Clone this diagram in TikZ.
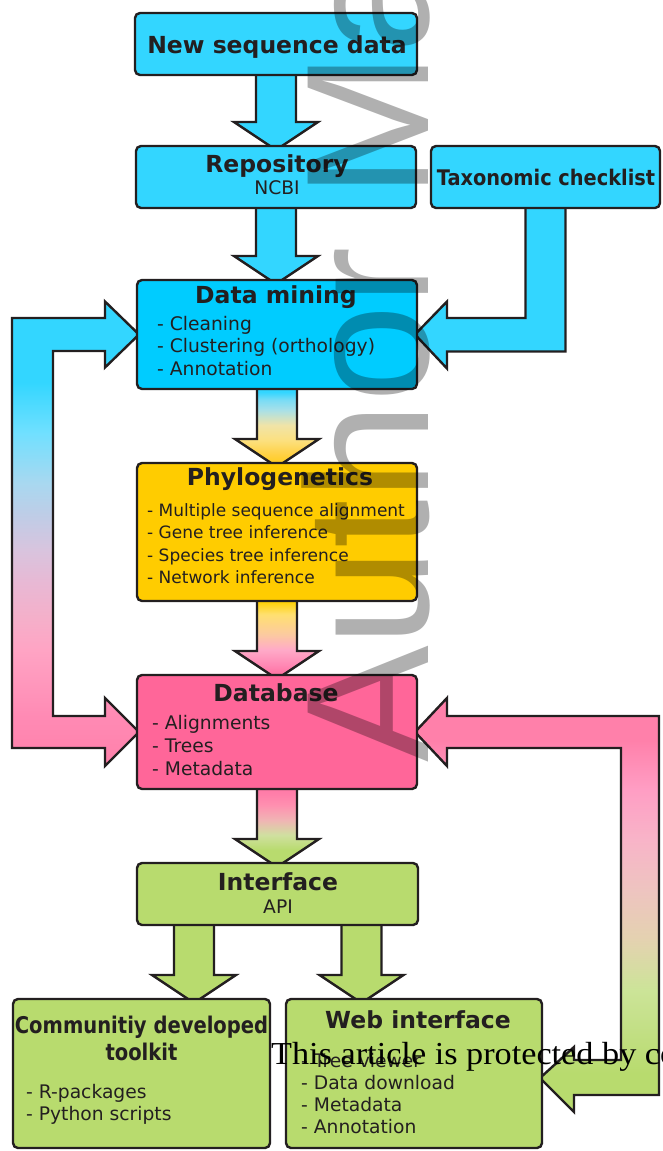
\documentclass[tikz,border=0pt]{standalone}
\usepackage{fontspec}
\usepackage{graphicx}
\usetikzlibrary{calc}
\newfontfamily\dvs{DejaVu Sans}
\newfontfamily\wmsans{Liberation Sans}
\newfontfamily\wmserif{Liberation Serif}
\definecolor{outl}{HTML}{231F20}
\definecolor{ink}{HTML}{231F20}
\definecolor{cyA}{HTML}{33D6FF}
\definecolor{cyB}{HTML}{00CCFF}
\definecolor{yel}{HTML}{FFCC00}
\definecolor{pnk}{HTML}{FF6699}
\definecolor{grn}{HTML}{B8DB6E}
\definecolor{lA}{HTML}{FF80AA}
\definecolor{lB}{HTML}{FF8AB4}
\definecolor{lC}{HTML}{FFA4C4}
\definecolor{lD}{HTML}{F4B0CA}
\definecolor{lE}{HTML}{E8B8D4}
\definecolor{lF}{HTML}{D8C4DE}
\definecolor{lG}{HTML}{C0CCE6}
\definecolor{lH}{HTML}{A8D8F0}
\definecolor{lI}{HTML}{70E0FF}
\definecolor{lJ}{HTML}{33D6FF}
\definecolor{rA}{HTML}{B8DB6E}
\definecolor{rB}{HTML}{C4E088}
\definecolor{rC}{HTML}{CCE498}
\definecolor{rD}{HTML}{E4D2B0}
\definecolor{rE}{HTML}{EEC4C0}
\definecolor{rF}{HTML}{F8B4C8}
\definecolor{rG}{HTML}{FF9EC4}
\definecolor{rH}{HTML}{FF80AA}
\definecolor{aA}{HTML}{7ADCF5}
\definecolor{aB}{HTML}{A8E0E8}
\definecolor{aC}{HTML}{F0E4A8}
\definecolor{aD}{HTML}{FCE080}
\definecolor{aE}{HTML}{FFD040}
\definecolor{aF}{HTML}{FFCC10}
\definecolor{bA}{HTML}{FFD000}
\definecolor{bB}{HTML}{FFE070}
\definecolor{bC}{HTML}{FCCAA0}
\definecolor{bD}{HTML}{FFAAC8}
\definecolor{bE}{HTML}{FF88B4}
\definecolor{bF}{HTML}{FF70A0}
\definecolor{cA}{HTML}{FF77A6}
\definecolor{cB}{HTML}{FF80AA}
\definecolor{cC}{HTML}{FF90B0}
\definecolor{cD}{HTML}{F0B4B4}
\definecolor{cE}{HTML}{D0E0A0}
\definecolor{cF}{HTML}{B8DB6E}
\pgfdeclareverticalshading{leftloop}{100bp}{color(0bp)=(lA); color(25bp)=(lA); color(30.3bp)=(lB); color(37.5bp)=(lC); color(41.1bp)=(lD); color(44.7bp)=(lE); color(48.3bp)=(lF); color(51.8bp)=(lG); color(55.5bp)=(lH); color(60.9bp)=(lI); color(66.3bp)=(lJ); color(100bp)=(lJ)}
\pgfdeclareverticalshading{rightloop}{100bp}{color(0bp)=(rA); color(29.7bp)=(rA); color(35.7bp)=(rB); color(39.7bp)=(rC); color(45.8bp)=(rD); color(51.8bp)=(rE); color(57.9bp)=(rF); color(63.9bp)=(rG); color(69.9bp)=(rH); color(100bp)=(rH)}
\pgfdeclareverticalshading{dmphy}{100bp}{color(0bp)=(aF); color(25bp)=(aF); color(32.3bp)=(aE); color(41.5bp)=(aD); color(50.6bp)=(aC); color(59.8bp)=(aB); color(65.9bp)=(aA); color(70.7bp)=(cyA); color(100bp)=(cyA)}
\pgfdeclareverticalshading{phydb}{100bp}{color(0bp)=(bF); color(27.5bp)=(bF); color(33.6bp)=(bE); color(42.9bp)=(bD); color(52.2bp)=(bC); color(64.5bp)=(bB); color(72.5bp)=(bA); color(100bp)=(bA)}
\pgfdeclareverticalshading{dbint}{100bp}{color(0bp)=(cF); color(35.4bp)=(cF); color(44.5bp)=(cE); color(53.7bp)=(cD); color(62.8bp)=(cC); color(68.9bp)=(cB); color(75bp)=(cA); color(100bp)=(cA)}
\pgfdeclarelayer{background}
\pgfsetlayers{background,main}
\newcommand\vfat[4]{%
  \path[#1] let \p1=($(#2.south)+(#4,0)$), \p2=(#3.north) in
    (\x1-20pt,\y1+4pt) -- (\x1+20pt,\y1+4pt) -- (\x1+20pt,\y2+24pt) --
    (\x1+42pt,\y2+24pt) -- (\x1,\y2-4pt) -- (\x1-42pt,\y2+24pt) --
    (\x1-20pt,\y2+24pt) -- cycle;}
\begin{document}
\begin{tikzpicture}[x=1pt,y=-1pt,
  boxst/.style={draw=outl, line width=2.4pt, rounded corners=5pt, inner sep=0pt, outer sep=0pt},
  fat/.style={draw=outl, line width=2.4pt, line join=miter},
  ttl/.style={inner sep=0pt, anchor=base, text=ink, font=\dvs\bfseries\fontsize{23.5}{28}\selectfont},
  sub/.style={inner sep=0pt, anchor=base, text=ink, font=\dvs\fontsize{18.7}{22}\selectfont},
  itm/.style={inner sep=0pt, anchor=base west, text=ink, font=\dvs\fontsize{18.7}{22}\selectfont},
  itms/.style={inner sep=0pt, anchor=base west, text=ink, font=\dvs\fontsize{17}{20}\selectfont}]
\useasboundingbox (0,0) rectangle (662,1151);
\clip (0,0) rectangle (662,1151);
% boxes
\node[boxst, fill=cyA, minimum width=282pt, minimum height=62pt] (nsd) at (276,44) {};
\node[boxst, fill=cyA, minimum width=280pt, minimum height=62pt] (repo) at (276,177) {};
\node[boxst, fill=cyA, minimum width=229pt, minimum height=62pt] (tax) at (545.5,177) {};
\node[boxst, fill=cyB, minimum width=280pt, minimum height=109pt] (dm) at (277,334.5) {};
\node[boxst, fill=yel, minimum width=280pt, minimum height=138pt] (phy) at (277,532) {};
\node[boxst, fill=pnk, minimum width=280pt, minimum height=114pt] (db) at (277,732) {};
\node[boxst, fill=grn, minimum width=281pt, minimum height=62pt] (int) at (277.5,894) {};
\node[boxst, fill=grn, minimum width=257pt, minimum height=149pt] (com) at (141.5,1073.5) {};
\node[boxst, fill=grn, minimum width=256pt, minimum height=149pt] (web) at (414,1073.5) {};
% arrows
\begin{pgfonlayer}{background}
\vfat{fat, fill=cyA}{nsd}{repo}{0}
\vfat{fat, fill=cyA}{repo}{dm}{0}
\vfat{fat, shade, shading=dmphy}{dm}{phy}{0}
\vfat{fat, shade, shading=phydb}{phy}{db}{0}
\vfat{fat, shade, shading=dbint}{db}{int}{0}
\vfat{fat, fill=grn}{int}{com}{-83.5}
\vfat{fat, fill=grn}{int}{web}{84}
% taxonomic checklist -> data mining
\path[fat, fill=cyA] let \p1=(tax.south), \p2=(dm.east) in
  (\x1-20pt,\y1+4pt) -- (\x1+20pt,\y1+4pt) -- (\x1+20pt,\y2-17pt) --
  (\x2+30pt,\y2-17pt) -- (\x2+30pt,\y2-34pt) -- (\x2-2pt,\y2) --
  (\x2+30pt,\y2+33pt) -- (\x2+30pt,\y2+16.5pt) -- (\x1-20pt,\y2+16.5pt) -- cycle;
% left loop data mining <-> database
\path[fat, shade, shading=leftloop] let \p1=(dm.west), \p2=(db.west) in
  (\x1+2pt,\y1) -- (\x1-32pt,\y1+33pt) -- (\x1-32pt,\y1+16.5pt) --
  (\x1-125pt,\y1+16.5pt) -- (\x1-125pt,\y2-16pt) -- (\x1-32pt,\y2-16pt) --
  (\x1-32pt,\y2-34pt) -- (\x2+2pt,\y2) -- (\x1-32pt,\y2+34pt) --
  (\x1-32pt,\y2+16pt) -- (\x1-84pt,\y2+16pt) -- (\x1-84pt,\y1-16.5pt) --
  (\x1-32pt,\y1-16.5pt) -- (\x1-32pt,\y1-33pt) -- cycle;
% right loop database <-> web interface
\path[fat, shade, shading=rightloop] let \p1=(db.east), \p2=(web.east) in
  (\x1-2pt,\y1) -- (\x1+30pt,\y1+34pt) -- (\x1+30pt,\y1+16pt) --
  (\x1+242pt,\y1+16pt) -- (\x1+242pt,\y2-21.5pt) -- (\x2+32pt,\y2-21.5pt) --
  (\x2+32pt,\y2-38.5pt) -- (\x2-2pt,\y2-4.5pt) -- (\x2+32pt,\y2+26.5pt) --
  (\x2+32pt,\y2+13.5pt) -- (\x1+204pt,\y2+13.5pt) -- (\x1+204pt,\y1-16pt) --
  (\x1+30pt,\y1-16pt) -- (\x1+30pt,\y1-34pt) -- cycle;
\end{pgfonlayer}
% texts
\node[ttl] (tnsd) at (277,53) {New sequence data};
\node[ttl] (trepo) at (277,172) {Repository};
\node[sub] (tncbi) at (277,194) {NCBI};
\node[ttl, font=\dvs\bfseries\fontsize{21.5}{25}\selectfont] (ttax) at (546,185) {\scalebox{0.9}[1]{Taxonomic checklist}};
\node[ttl] (tdm) at (276,303) {Data mining};
\node[itm] (dm1) at (157,330) {- Cleaning};
\node[itm] (dm2) at (157,352.5) {- Clustering (orthology)};
\node[itm] (dm3) at (157,375) {- Annotation};
\node[ttl] (tphy) at (280,485) {Phylogenetics};
\node[itms] (ph1) at (147,516) {- Multiple sequence alignment};
\node[itms] (ph2) at (147,538) {- Gene tree inference};
\node[itms] (ph3) at (147,561) {- Species tree inference};
\node[itms] (ph4) at (147,583) {- Network inference};
\node[ttl] (tdb) at (276,701) {Database};
\node[itm] (db1) at (152,729) {- Alignments};
\node[itm] (db2) at (152,752) {- Trees};
\node[itm] (db3) at (152,775) {- Metadata};
\node[ttl] (tint) at (278,890) {Interface};
\node[sub] (tapi) at (278,913) {API};
\node[ttl, font=\dvs\bfseries\fontsize{23}{27}\selectfont] (tcom1) at (141.5,1033) {\scalebox{0.85}[1]{Communitiy developed}};
\node[ttl, font=\dvs\bfseries\fontsize{23}{27}\selectfont] (tcom2) at (141.5,1060) {\scalebox{0.85}[1]{toolkit}};
\node[itm] (cm1) at (26,1098) {- R-packages};
\node[itm] (cm2) at (26,1120) {- Python scripts};
\node[ttl] (tweb) at (418,1028) {Web interface};
\node[itm] (wb1) at (301,1067) {- Tree viewer};
\node[itm] (wb2) at (301,1089) {- Data download};
\node[itm] (wb3) at (301,1111) {- Metadata};
\node[itm] (wb4) at (301,1133) {- Annotation};
% watermark
\node[rotate=90, anchor=base west, inner sep=0pt, text=black, opacity=0.31, font=\wmsans\fontsize{175}{175}\selectfont] (wm) at (428,763) {Author Manuscript};
\node[anchor=base west, inner sep=0pt, text=black, font=\wmserif\fontsize{32}{38}\selectfont] (cpr) at (271,1064) {\scalebox{1.07}[1]{This article is protected by copyright. All rights reserved}};
\end{tikzpicture}
\end{document}
